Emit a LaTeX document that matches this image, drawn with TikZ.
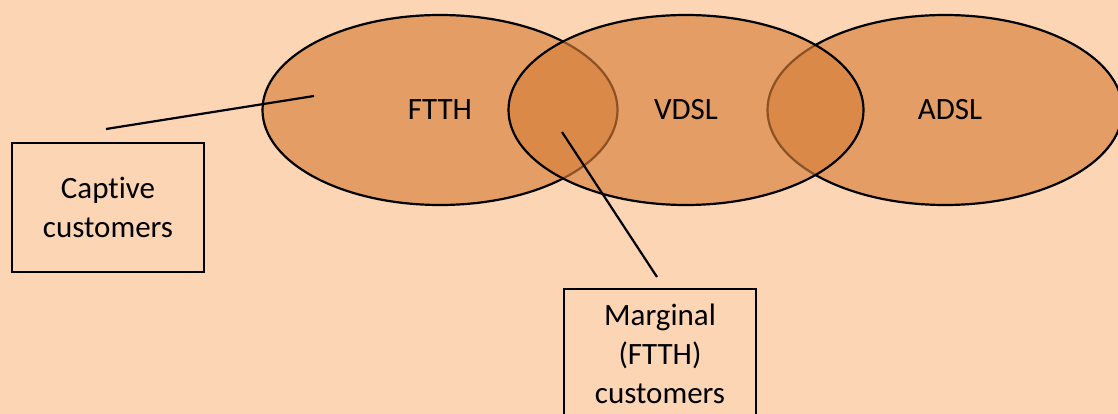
\documentclass[tikz,border=0pt]{standalone}
\usepackage{fontspec}
\setmainfont{Carlito}[Ligatures={NoCommon}]
\usetikzlibrary{shapes.geometric}
\definecolor{bgpeach}{RGB}{252,213,181}
\definecolor{ellfill}{RGB}{214,127,59}
\tikzset{
  venn/.style={ellipse, draw=black, line width=2.2pt, fill=ellfill, fill opacity=0.65, draw opacity=1, text opacity=1,
    minimum width=355pt, minimum height=190pt, inner sep=0pt, font=\fontsize{31}{39}\selectfont},
  labelbox/.style={draw=black, line width=2.2pt, minimum width=192pt, minimum height=129pt, inner sep=0pt,
    align=center, font=\fontsize{31}{39}\selectfont},
  pointer/.style={draw=black, line width=2.2pt}
}
\begin{document}
\begin{tikzpicture}[x=1pt,y=-1pt]
\useasboundingbox (0,0) rectangle (1118,414);
\clip (0,0) rectangle (1118,414);
\fill[bgpeach] (0,0) rectangle (1118,414);
\node[venn] (ftth) at (440,110) {FTTH};
\node[venn] (adsl) at (945,110) {\hspace*{10pt}ADSL};
\node[venn] (vdsl) at (686,110) {VDSL};
\node[labelbox] (captive) at (108,207.5) {Captive\\customers};
\node[labelbox] (marginal) at (660,353.5) {Marginal\\(FTTH)\\customers};
\coordinate (c1) at (106,129);
\coordinate (c2) at (314,96);
\coordinate (m1) at (562,132);
\coordinate (m2) at (657,277);
\draw[pointer] (c1) -- (c2);
\draw[pointer] (m1) -- (m2);
\end{tikzpicture}
\end{document}
